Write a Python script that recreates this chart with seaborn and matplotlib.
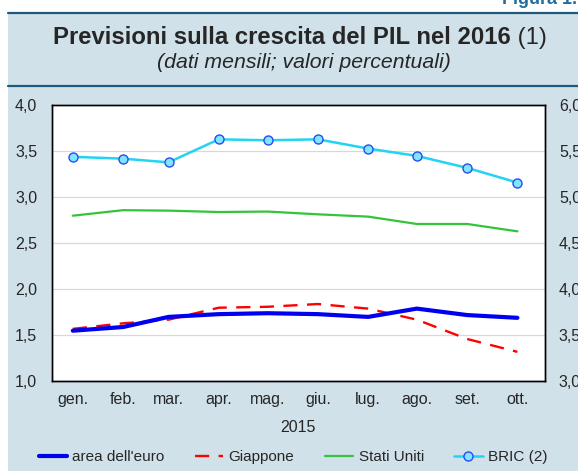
import matplotlib
matplotlib.use("Agg")
import matplotlib.pyplot as plt
import matplotlib.dates as mdates
from matplotlib.lines import Line2D
from matplotlib.patches import Rectangle
import numpy as np
import pandas as pd
import seaborn as sns

# ---------------- data ----------------
dates = ["2015-01-14", "2015-02-14", "2015-03-14", "2015-04-14", "2015-05-14",
         "2015-06-14", "2015-07-15", "2015-08-14", "2015-09-14", "2015-10-15"]
month_labels = ["gen.", "feb.", "mar.", "apr.", "mag.", "giu.", "lug.", "ago.", "set.", "ott."]
euro_area = [1.55, 1.59, 1.70, 1.73, 1.74, 1.73, 1.70, 1.79, 1.72, 1.69]
giappone = [1.57, 1.63, 1.67, 1.80, 1.81, 1.84, 1.79, 1.67, 1.46, 1.32]
stati_uniti = [2.80, 2.86, 2.855, 2.84, 2.845, 2.815, 2.79, 2.71, 2.71, 2.63]
bric = [5.44, 5.42, 5.38, 5.63, 5.62, 5.63, 5.53, 5.45, 5.32, 5.16]
series_names = ["area dell'euro", "Giappone", "Stati Uniti", "BRIC (2)"]
left_ticks = [1.0, 1.5, 2.0, 2.5, 3.0, 3.5, 4.0]
right_ticks = [3.0, 3.5, 4.0, 4.5, 5.0, 5.5, 6.0]
year_label = "2015"
title_main = "Previsioni sulla crescita del PIL nel 2016"
title_note = " (1)"
subtitle = "(dati mensili; valori percentuali)"
figure_tag = "Figura 1."

# ---------------- style ----------------
sns.set_style("white")
plt.rcParams["font.family"] = ["Liberation Sans", "DejaVu Sans"]

W, H = 578, 471
fig = plt.figure(figsize=(W / 100, H / 100), dpi=100)
fig.patch.set_facecolor("white")

bg = "#D0E1EA"
dark = "#1C5B7E"
fig.patches.append(Rectangle((8 / W, 0), 1 - 8 / W, 1 - 12 / H, transform=fig.transFigure,
                             facecolor=bg, edgecolor="none", zorder=-10))
for ypx in (12.5, 86):
    fig.add_artist(Line2D([8 / W, 1], [1 - ypx / H, 1 - ypx / H], transform=fig.transFigure,
                          color=dark, lw=1.6))

fig.text(577 / W, 1 - 8 / H, figure_tag, ha="right", va="bottom", fontsize=13,
         fontweight="bold", color="#1F6E9E")

# title
t1 = fig.text(0.5, 1 - 38 / H, title_main, ha="center", va="center", fontsize=17.2,
              fontweight="bold")
fig.canvas.draw()
r = fig.canvas.get_renderer()
bb1 = t1.get_window_extent(r)
t2 = fig.text(0, 1 - 38 / H, title_note, ha="left", va="center", fontsize=17.2)
bb2 = t2.get_window_extent(r)
total = bb1.width + bb2.width
x0 = (300 - total / 2)
t1.set_ha("left")
t1.set_x(x0 / W)
t2.set_x((x0 + bb1.width) / W)
fig.text(304 / W, 1 - 62 / H, subtitle, ha="center", va="center", fontsize=15.3, style="italic")

# axes
ax = fig.add_axes([51.7 / W, 1 - 381.3 / H, (545 - 51.7) / W, (381.3 - 105.3) / H])
ax.set_facecolor("white")
ax2 = ax.twinx()

df = pd.DataFrame({"date": pd.to_datetime(dates), "euro": euro_area, "jp": giappone,
                   "us": stati_uniti, "bric": bric})

sns.lineplot(data=df, x="date", y="us", ax=ax, color="#33C43A", lw=1.6, zorder=3)
sns.lineplot(data=df, x="date", y="jp", ax=ax, color="#FF0000", lw=1.7, zorder=4,
             dashes=False, linestyle=(0, (6, 4)))
sns.lineplot(data=df, x="date", y="euro", ax=ax, color="#0000F0", lw=3.0, zorder=5)
sns.lineplot(data=df, x="date", y="bric", ax=ax2, color="#22D4F2", lw=1.8, marker="o",
             markersize=6.5, markerfacecolor="#7FE6FF", markeredgecolor="#2B4BF0",
             markeredgewidth=1.0, zorder=5)

ax.set_ylim(left_ticks[0], left_ticks[-1])
ax2.set_ylim(right_ticks[0], right_ticks[-1])
ax.set_yticks(left_ticks)
ax2.set_yticks(right_ticks)
fmt = lambda v: f"{v:.1f}".replace(".", ",")
ax.set_yticklabels([fmt(v) for v in left_ticks], fontsize=11.5)
ax2.set_yticklabels([fmt(v) for v in right_ticks], fontsize=11.5)
ax.tick_params(axis="y", length=0, pad=10.5)
ax2.tick_params(axis="y", length=0, pad=10)
for v in left_ticks[1:-1]:
    ax.axhline(v, color="#D8D8D8", lw=0.9, zorder=1)

ax.set_xlim(pd.Timestamp("2015-01-01"), pd.Timestamp("2015-11-01"))
ax.xaxis.set_major_locator(mdates.MonthLocator())
ax.xaxis.set_major_formatter(plt.NullFormatter())
ax.set_xticks(pd.to_datetime(dates), minor=True)
ax.set_xticklabels(month_labels, minor=True, fontsize=11.5)
ax.tick_params(axis="x", which="major", direction="in", length=4, width=0.9, color="black")
ax.tick_params(axis="x", which="minor", length=0, pad=8)
ax.set_xlabel(year_label, fontsize=11.5, labelpad=9)
ax.set_ylabel("")
ax2.set_ylabel("")

for a in (ax, ax2):
    for s in a.spines.values():
        s.set_visible(True)
        s.set_color("black")
        s.set_linewidth(1.0)

# legend
handles = [
    Line2D([], [], color="#0000F0", lw=3.0),
    Line2D([], [], color="#FF0000", lw=1.7, linestyle=(0, (6, 4))),
    Line2D([], [], color="#33C43A", lw=1.6),
    Line2D([], [], color="#22D4F2", lw=1.8, marker="o", markersize=6.5,
           markerfacecolor="#7FE6FF", markeredgecolor="#2B4BF0", markeredgewidth=1.0),
]
fig.legend(handles, series_names, loc="center", bbox_to_anchor=(293 / W, 1 - 457 / H),
           ncol=4, frameon=False, fontsize=11, handlelength=1.85, handletextpad=0.35,
           columnspacing=2.0)

fig.savefig("out.png", dpi=100, facecolor=fig.get_facecolor())
